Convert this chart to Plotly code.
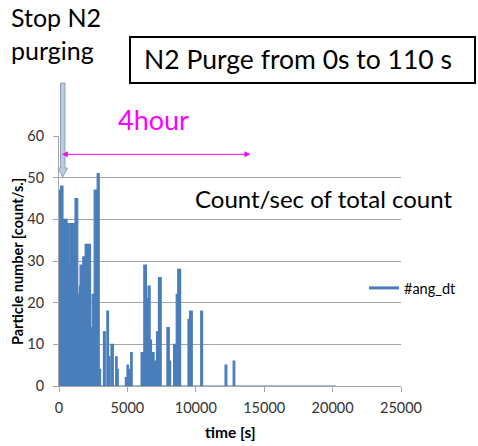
import plotly.graph_objects as go

# ---- data (step values: each value holds until the next time) ----
time_s = [0, 120, 290, 590, 735, 830, 1170, 1370, 1490, 1540, 1740, 1910, 2300, 2420,
          2570, 2790, 2940, 3040, 3250, 3380, 3500, 3620, 3700, 3800, 3970, 4140, 4250,
          4330, 4850, 4970, 5080, 5240, 5350, 6000, 6200, 6390, 6510, 6660, 6760, 6950,
          7130, 7270, 7470, 7890, 8060, 8160, 8380, 8570, 8680, 8890, 9430, 9550, 9740,
          10360, 10490, 12140, 12270, 12730, 12850, 20240]
count_rate = [47, 48, 40, 39, 29, 39, 45, 22, 24, 29, 31, 34, 14, 22,
              47, 51, 4, 0, 13, 0, 18, 7, 0, 10, 0, 7, 4,
              0, 2, 5, 4, 8, 0, 8, 29, 21, 24, 11, 8, 6,
              13, 26, 0, 14, 6, 0, 10, 22, 28, 0, 16, 18, 0,
              18, 0, 5, 0, 6, 0, 0]
series_name = "#ang_dt"
x_ticks = [0, 5000, 10000, 15000, 20000, 25000]
x_tick_labels = [str(v) for v in x_ticks]
y_ticks = [0, 10, 20, 30, 40, 50, 60]

BLUE = "#4a7ebb"
GRID = "#a6a6a6"
FONT = "Lato"

W, H = 478, 446
ML, MR, MT, MB = 59, 77, 136, 60
PW, PH = W - ML - MR, H - MT - MB


def px(x):
    return (x - ML) / PW


def py(y):
    return (H - MB - y) / PH


fig = go.Figure()
fig.add_trace(go.Scatter(
    x=time_s, y=count_rate, mode="lines", line=dict(color=BLUE, width=1.2, shape="hv"),
    fill="tozeroy", fillcolor=BLUE, showlegend=False, name=series_name,
    legendgroup="a"))
fig.add_trace(go.Scatter(
    x=[None], y=[None], mode="lines", line=dict(color=BLUE, width=3),
    name=series_name, legendgroup="a"))

anns = []
anns.append(dict(xref="paper", yref="paper", x=px(9), y=py(0), xanchor="left", yanchor="top",
                 text="Stop N2<br>purging", showarrow=False, align="left",
                 font=dict(family=FONT, size=25, color="black")))
anns.append(dict(xref="paper", yref="paper", x=px(142), y=py(59), xanchor="left", yanchor="middle",
                 text="N2 Purge from 0s to 110 s", showarrow=False,
                 font=dict(family=FONT, size=26.5, color="black")))
anns.append(dict(xref="paper", yref="paper", x=px(153), y=py(120), xanchor="center", yanchor="middle",
                 text="4hour", showarrow=False,
                 font=dict(family=FONT, size=27, color="#ff00ff")))
anns.append(dict(xref="paper", yref="paper", x=px(323), y=py(198), xanchor="center", yanchor="middle",
                 text="Count/sec of total count", showarrow=False,
                 font=dict(family=FONT, size=24, color="black")))
# axis titles
anns.append(dict(xref="paper", yref="paper", x=px(17), y=py(262), xanchor="center", yanchor="middle",
                 text="<b>Particle number [count/s.]</b>", textangle=-90, showarrow=False,
                 font=dict(family=FONT, size=14.5, color="black")))
anns.append(dict(xref="paper", yref="paper", x=px(230), y=py(432), xanchor="center", yanchor="middle",
                 text="<b>time [s]</b>", showarrow=False,
                 font=dict(family=FONT, size=15.5, color="black")))
# magenta double arrow
anns.append(dict(xref="x", yref="y", axref="x", ayref="y", x=14000, y=55.6, ax=100, ay=55.6,
                 text="", showarrow=True, arrowside="end+start", arrowhead=2, arrowsize=1.2,
                 arrowwidth=1, arrowcolor="#ff00ff"))

shapes = [
    dict(type="rect", xref="paper", yref="paper", x0=px(130), x1=px(475), y0=py(83), y1=py(37),
         line=dict(color="black", width=2), fillcolor="rgba(0,0,0,0)"),
    dict(type="path", xref="paper", yref="paper",
         path=("M {a},{t} L {b},{t} L {b},{h} L {c},{h} L {m},{tip} L {d},{h} L {a},{h} Z").format(
             a=px(60.5), b=px(65), c=px(67.5), d=px(58), m=px(62.7),
             t=py(83), h=py(168), tip=py(177)),
         fillcolor="#bccadc", line=dict(color="#8fa4c0", width=1)),
]

fig.update_layout(
    width=W, height=H, margin=dict(l=ML, r=MR, t=MT, b=MB),
    paper_bgcolor="white", plot_bgcolor="white",
    font=dict(family=FONT, size=14.5, color="#333333"),
    annotations=anns, shapes=shapes,
    legend=dict(x=px(364), y=py(288), xanchor="left", yanchor="middle",
                bgcolor="rgba(0,0,0,0)", font=dict(family=FONT, size=14.5, color="black")),
    xaxis=dict(range=[0, 25000], tickvals=x_ticks, ticktext=x_tick_labels, ticks="outside",
               ticklen=5, tickcolor=GRID, showline=True, linecolor=GRID, showgrid=False,
               zeroline=False, ticklabelstandoff=4, tickfont=dict(size=14.5, color="#333333")),
    yaxis=dict(range=[0, 60], tickvals=y_ticks, ticks="outside", ticklen=5,
               tickcolor=GRID, showline=True, linecolor=GRID, showgrid=True,
               gridcolor=GRID, zeroline=False, ticklabelstandoff=6,
               tickfont=dict(size=14.5, color="#333333")),
)

fig.write_html("out.html", config={"displayModeBar": False},
               post_script="document.body.style.margin='0';")
